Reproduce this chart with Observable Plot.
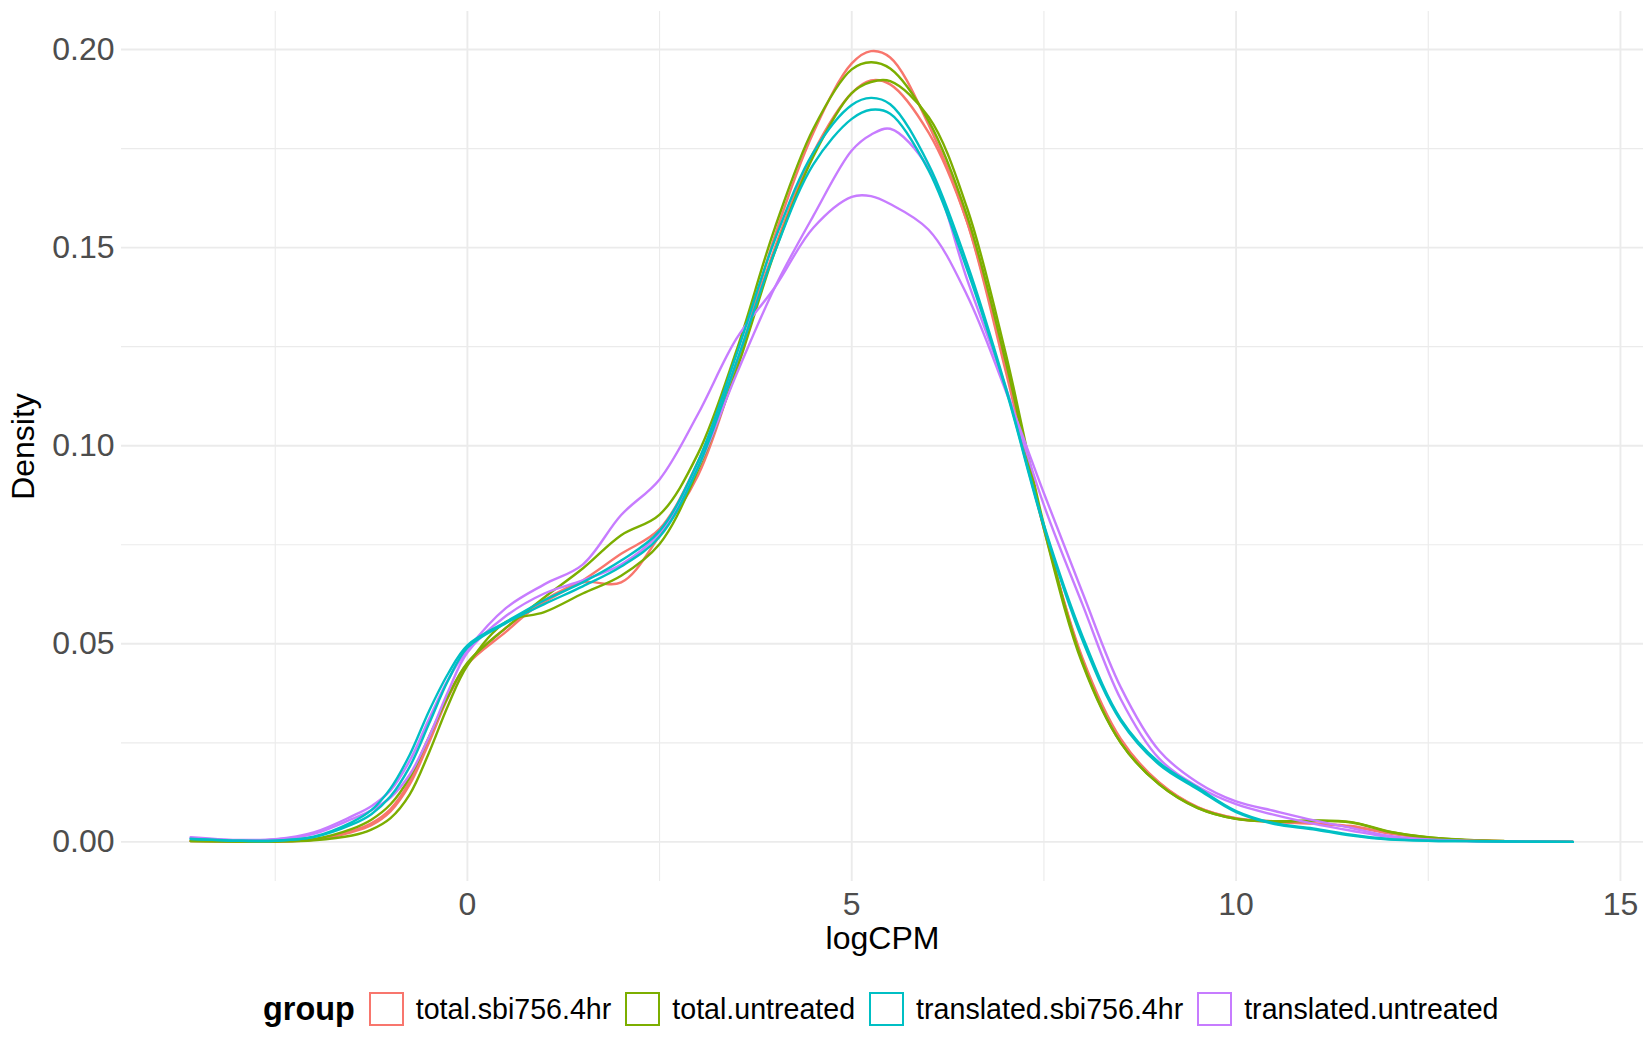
<!DOCTYPE html>
<html>
<head>
<meta charset="utf-8">
<script src="https://cdn.jsdelivr.net/npm/d3@7"></script>
<script src="https://cdn.jsdelivr.net/npm/@observablehq/plot@0.6"></script>
<style>
  html, body { margin: 0; padding: 0; background: #ffffff; overflow: hidden; }
  body { font-family: "Liberation Sans", Arial, sans-serif; width: 1650px; height: 1050px; }
  #chart svg g[aria-label="x-axis tick label"], #chart svg g[aria-label="y-axis tick label"] { fill: #4D4D4D; }
  #legend { position: absolute; left: 263px; top: 992px; height: 34px; display: flex; align-items: center; white-space: nowrap; }
  #legend .title { font-weight: bold; font-size: 32.4px; color: #000; margin-right: 14px; }
  #legend .key { width: 35px; height: 34px; box-sizing: border-box; border: 2px solid; background: #fff; margin-right: 12px; }
  #legend .lab { font-size: 28.6px; color: #000; margin-right: 14px; }
</style>
</head>
<body>
<div id="chart"></div>
<div id="legend"></div>
<script>
// x positions (logCPM) at which the density curves were read
const logCPM = [-3.6, -3, -2.5, -2, -1.5, -1.25, -1, -0.75, -0.5, -0.25, 0, 0.5, 1, 1.5, 2, 2.5, 3, 3.5, 4, 4.5, 5, 5.25, 5.5, 6, 6.5, 7, 7.5, 8, 8.5, 9, 9.5, 10, 10.5, 11, 11.5, 12, 12.5, 13, 13.5, 14.38];

const groups = ["total.sbi756.4hr", "total.untreated", "translated.sbi756.4hr", "translated.untreated"];
const groupColors = ["#F8766D", "#7CAE00", "#00BFC4", "#C77CFF"];

// density values, one array per sample
const total_sbi756_A = [0.0003, 0.0001, 0.0001, 0.0005, 0.0025, 0.0042, 0.0077, 0.0145, 0.0250, 0.0365, 0.0448, 0.0530, 0.0610, 0.0655, 0.0655, 0.0772, 0.0925, 0.1200, 0.1530, 0.1790, 0.1965, 0.1996, 0.1980, 0.1810, 0.1565, 0.1190, 0.0790, 0.0465, 0.0260, 0.0150, 0.0088, 0.0060, 0.0052, 0.0047, 0.0038, 0.0021, 0.0009, 0.0004, 0.0002, 0.0000];
const total_sbi756_B = [0.0002, 0.0001, 0.0001, 0.0006, 0.0028, 0.0047, 0.0083, 0.0152, 0.0258, 0.0370, 0.0450, 0.0540, 0.0605, 0.0660, 0.0727, 0.0790, 0.0960, 0.1210, 0.1500, 0.1740, 0.1890, 0.1922, 0.1912, 0.1790, 0.1565, 0.1200, 0.0795, 0.0460, 0.0255, 0.0148, 0.0087, 0.0059, 0.0050, 0.0046, 0.0040, 0.0022, 0.0010, 0.0004, 0.0002, 0.0000];
const total_untreated_A = [0.0002, 0.0001, 0.0001, 0.0007, 0.0033, 0.0056, 0.0095, 0.0163, 0.0265, 0.0368, 0.0452, 0.0540, 0.0617, 0.0690, 0.0774, 0.0826, 0.0980, 0.1240, 0.1550, 0.1800, 0.1950, 0.1968, 0.1952, 0.1820, 0.1580, 0.1215, 0.0790, 0.0450, 0.0250, 0.0145, 0.0085, 0.0058, 0.0052, 0.0054, 0.0050, 0.0026, 0.0012, 0.0005, 0.0002, 0.0000];
const total_untreated_B = [0.0002, 0.0001, 0.0001, 0.0004, 0.0016, 0.0031, 0.0060, 0.0120, 0.0225, 0.0345, 0.0445, 0.0555, 0.0580, 0.0627, 0.0672, 0.0752, 0.0938, 0.1190, 0.1490, 0.1730, 0.1890, 0.1918, 0.1920, 0.1830, 0.1600, 0.1235, 0.0800, 0.0455, 0.0250, 0.0145, 0.0086, 0.0058, 0.0051, 0.0053, 0.0049, 0.0025, 0.0011, 0.0005, 0.0002, 0.0000];
const translated_sbi756_A = [0.0008, 0.0003, 0.0003, 0.0013, 0.0050, 0.0080, 0.0135, 0.0220, 0.0330, 0.0425, 0.0496, 0.0555, 0.0610, 0.0655, 0.0710, 0.0785, 0.0960, 0.1230, 0.1520, 0.1740, 0.1860, 0.1878, 0.1862, 0.1710, 0.1460, 0.1150, 0.0800, 0.0520, 0.0310, 0.0200, 0.0137, 0.0078, 0.0047, 0.0034, 0.0018, 0.0007, 0.0003, 0.0002, 0.0001, 0.0000];
const translated_sbi756_B = [0.0007, 0.0003, 0.0003, 0.0012, 0.0044, 0.0070, 0.0115, 0.0190, 0.0298, 0.0408, 0.0490, 0.0552, 0.0600, 0.0645, 0.0695, 0.0770, 0.0945, 0.1210, 0.1490, 0.1710, 0.1825, 0.1848, 0.1838, 0.1695, 0.1445, 0.1145, 0.0795, 0.0510, 0.0305, 0.0195, 0.0133, 0.0075, 0.0045, 0.0032, 0.0016, 0.0006, 0.0003, 0.0002, 0.0001, 0.0000];
const translated_untreated_A = [0.0010, 0.0004, 0.0006, 0.0020, 0.0058, 0.0080, 0.0112, 0.0170, 0.0265, 0.0380, 0.0478, 0.0570, 0.0627, 0.0660, 0.0700, 0.0780, 0.0945, 0.1180, 0.1400, 0.1580, 0.1745, 0.1785, 0.1800, 0.1700, 0.1420, 0.1150, 0.0850, 0.0600, 0.0360, 0.0210, 0.0140, 0.0095, 0.0068, 0.0046, 0.0028, 0.0012, 0.0005, 0.0002, 0.0001, 0.0000];
const translated_untreated_B = [0.0012, 0.0005, 0.0007, 0.0024, 0.0065, 0.0090, 0.0130, 0.0205, 0.0310, 0.0410, 0.0485, 0.0590, 0.0650, 0.0700, 0.0825, 0.0915, 0.1080, 0.1270, 0.1400, 0.1550, 0.1628, 0.1630, 0.1610, 0.1545, 0.1380, 0.1140, 0.0880, 0.0630, 0.0390, 0.0230, 0.0150, 0.0102, 0.0078, 0.0055, 0.0035, 0.0015, 0.0006, 0.0003, 0.0001, 0.0000];

// tick values
const xTicks = [0, 5, 10, 15];
const xMinorTicks = [-2.5, 2.5, 7.5, 12.5];
const yTicks = [0, 0.05, 0.10, 0.15, 0.20];
const yMinorTicks = [0.025, 0.075, 0.125, 0.175];

const samples = [
  ["total.sbi756.4hr.A", groups[0], total_sbi756_A],
  ["total.sbi756.4hr.B", groups[0], total_sbi756_B],
  ["total.untreated.A", groups[1], total_untreated_A],
  ["total.untreated.B", groups[1], total_untreated_B],
  ["translated.untreated.A", groups[3], translated_untreated_A],
  ["translated.untreated.B", groups[3], translated_untreated_B],
  ["translated.sbi756.4hr.A", groups[2], translated_sbi756_A],
  ["translated.sbi756.4hr.B", groups[2], translated_sbi756_B]
];

const rows = [];
for (const [name, group, values] of samples) {
  values.forEach((v, i) => rows.push({logCPM: logCPM[i], density: v, sample: name, group}));
}

const font = "Liberation Sans, Arial, sans-serif";

const chart = Plot.plot({
  width: 1650,
  height: 960,
  marginLeft: 121,
  marginRight: 7,
  marginTop: 11,
  marginBottom: 79,
  style: {fontFamily: font, background: "#ffffff", overflow: "visible"},
  x: {domain: [-4.5, 15.3], label: null},
  y: {domain: [-0.01, 0.2096], label: null},
  color: {domain: groups, range: groupColors},
  marks: [
    Plot.ruleX(xMinorTicks, {stroke: "#EBEBEB", strokeWidth: 1.1}),
    Plot.ruleY(yMinorTicks, {stroke: "#EBEBEB", strokeWidth: 1.1}),
    Plot.ruleX(xTicks, {stroke: "#EBEBEB", strokeWidth: 1.9}),
    Plot.ruleY(yTicks, {stroke: "#EBEBEB", strokeWidth: 1.9}),
    Plot.line(rows, {x: "logCPM", y: "density", z: "sample", stroke: "group", strokeWidth: 2.4, curve: "catmull-rom"}),
    Plot.axisX({ticks: xTicks, tickSize: 0, tickPadding: 11, fontSize: 32, label: null, tickFormat: d => String(d)}),
    Plot.axisY({ticks: yTicks, tickSize: 0, tickPadding: 7, fontSize: 32, label: null, tickFormat: d3.format(".2f")}),
    Plot.text(["logCPM"], {frameAnchor: "bottom", dy: 57, fontSize: 32, fill: "#000", lineAnchor: "middle", textAnchor: "middle"}),
    Plot.text(["Density"], {frameAnchor: "left", dx: -98, rotate: -90, fontSize: 32, fill: "#000", lineAnchor: "middle", textAnchor: "middle"})
  ]
});
document.getElementById("chart").appendChild(chart);

// legend
const legend = document.getElementById("legend");
const t = document.createElement("span");
t.className = "title";
t.textContent = "group";
legend.appendChild(t);
groups.forEach((g, i) => {
  const k = document.createElement("span");
  k.className = "key";
  k.style.borderColor = groupColors[i];
  legend.appendChild(k);
  const l = document.createElement("span");
  l.className = "lab";
  l.textContent = g;
  legend.appendChild(l);
});
</script>
</body>
</html>
